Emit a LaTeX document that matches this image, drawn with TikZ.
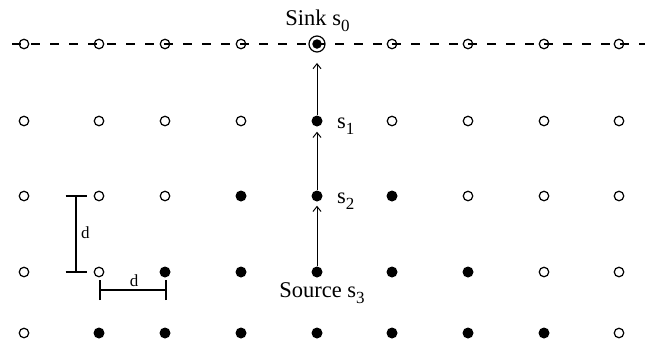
\documentclass[tikz,border=0pt]{standalone}
\usepackage{fontspec}
\setmainfont{Liberation Serif}
\usetikzlibrary{arrows.meta}
\newcommand\lsub[1]{\raisebox{-6pt}{\fontsize{17}{17}\selectfont #1}}
\tikzset{
  opendot/.style={circle, draw, line width=1.2pt, inner sep=0pt, minimum size=9.5pt},
  filldot/.style={circle, fill, inner sep=0pt, minimum size=11pt},
  sinkdot/.style={circle, fill, inner sep=0pt, minimum size=9.5pt},
  sinkring/.style={circle, draw, line width=1.2pt, inner sep=0pt, minimum size=16pt},
  arr/.style={-{Straight Barb[length=5pt,width=8pt]}, line width=1pt},
  dimline/.style={line width=1.2pt},
  lbl/.style={inner sep=0pt, font=\fontsize{22.5}{26}\selectfont},
  dlbl/.style={inner sep=0pt, font=\fontsize{17}{20}\selectfont},
  sinkline/.style={dashed, dash pattern=on 9pt off 10pt, line width=1.1pt}
}
\begin{document}
\begin{tikzpicture}[x=1pt,y=-1pt]
\useasboundingbox (0,0) rectangle (656,343);
% dashed sink line
\coordinate (dl) at (12,44);
\coordinate (dr) at (645,44);
\draw[sinkline] (dl) -- (dr);
% grid of sensors
\foreach \r/\y in {0/44,1/121,2/196,3/272,4/333}{
  \foreach \c/\x in {0/24,1/99,2/165,3/241,4/317,5/392,6/468,7/544,8/619}{
    \pgfmathtruncatemacro\k{((\r==0) && (\c==4)) ? 2 : ((abs(\c-4)<=\r-1) ? 1 : 0)}
    \ifcase\k
      \node[opendot] (n\r\c) at (\x,\y) {};
    \or
      \node[filldot] (n\r\c) at (\x,\y) {};
    \or
      \node[sinkdot] (n\r\c) at (\x,\y) {};
      \node[sinkring] (ring) at (\x,\y) {};
    \fi
  }
}
% labels
\node[lbl, anchor=base] (lsink) at (317.5,25) {Sink s\lsub{0}};
\node[lbl, anchor=base west] (ls1) at (337,128) {s\lsub{1}};
\node[lbl, anchor=base west] (ls2) at (337,203) {s\lsub{2}};
\node[lbl, anchor=base] (lsrc) at (322,297) {Source s\lsub{3}};
% routing arrows
\draw[arr, shorten >=4pt] (n34) -- (n24);
\draw[arr, shorten >=5pt] (n24) -- (n14);
\draw[arr, shorten >=14pt] (n14) -- (n04);
% vertical dimension
\coordinate (vd1) at (76,196);
\coordinate (vd2) at (76,272);
\draw[dimline] (vd1) -- (vd2);
\draw[dimline] ([xshift=-10.5pt]vd1) -- ([xshift=10.5pt]vd1);
\draw[dimline] ([xshift=-10.5pt]vd2) -- ([xshift=10.5pt]vd2);
\node[dlbl, anchor=west] (dv) at (81,233) {d};
% horizontal dimension
\coordinate (hd1) at (100,290);
\coordinate (hd2) at (166,290);
\draw[dimline] (hd1) -- (hd2);
\draw[dimline] ([yshift=-10pt]hd1) -- ([yshift=10pt]hd1);
\draw[dimline] ([yshift=-10pt]hd2) -- ([yshift=10pt]hd2);
\node[dlbl, anchor=base] (dh) at (134,286) {d};
\end{tikzpicture}
\end{document}
